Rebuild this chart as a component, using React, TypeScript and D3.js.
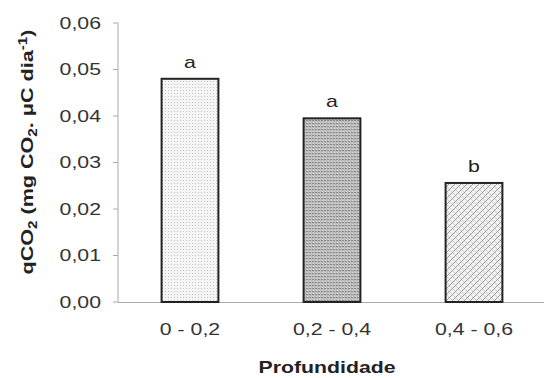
import React from "react";
import * as d3 from "d3";

const categories = ["0 - 0,2", "0,2 - 0,4", "0,4 - 0,6"];
const values = [0.048, 0.0395, 0.0256];
const letters = ["a", "a", "b"];
const yTicks = [0, 0.01, 0.02, 0.03, 0.04, 0.05, 0.06];

const W = 544;
const H = 378;
const stretch = 1.33; // the source image is stretched sideways

const App = () => {
  const x = d3.scaleBand().domain(categories).range([119, 545]).paddingInner(0.6).paddingOuter(0.3);
  const y = d3.scaleLinear().domain([0, 0.06]).range([302, 23]);
  const fmt = (v: number) => d3.format(".2f")(v).replace(".", ",");
  const fills = ["url(#p1)", "url(#p2)", "url(#p3)"];

  return (
    <svg width={W} height={H} style={{ position: "absolute", left: 0, top: 0, background: "#fff" }}
      fontFamily="Liberation Sans, Arial, sans-serif">
      <defs>
        <pattern id="p1" width="3" height="3" patternUnits="userSpaceOnUse">
          <rect width="3" height="3" fill="#f4f4f4" />
          <rect width="1" height="1" fill="#c8c8c8" />
        </pattern>
        <pattern id="p2" width="3" height="3" patternUnits="userSpaceOnUse">
          <rect width="3" height="3" fill="#bdbdbd" />
          <rect width="2" height="1" fill="#8a8a8a" />
          <rect x="1" y="2" width="1" height="1" fill="#d8d8d8" />
        </pattern>
        <pattern id="p3" width="6" height="6" patternUnits="userSpaceOnUse">
          <rect width="6" height="6" fill="#f2f2f2" />
          <path d="M0,3 L3,0 M3,6 L6,3" stroke="#9a9a9a" strokeWidth="1" />
          <path d="M0,4 L2,6 M3,1 L5,3" stroke="#c4c4c4" strokeWidth="0.8" />
        </pattern>
      </defs>

      {/* y axis */}
      <line x1={118} x2={118} y1={y(0.06)} y2={y(0)} stroke="#aaa" />
      {yTicks.map((t) => (
        <g key={t}>
          <line x1={113} x2={118} y1={y(t)} y2={y(t)} stroke="#aaa" />
          <g transform={`translate(101,${y(t)}) scale(${stretch},1)`}>
            <text textAnchor="end" dy="0.35em" fontSize={16} fill="#333">{fmt(t)}</text>
          </g>
        </g>
      ))}
      {/* x axis */}
      <line x1={118} x2={544} y1={y(0) + 0.5} y2={y(0) + 0.5} stroke="#aaa" />

      {values.map((v, i) => {
        const c = categories[i];
        const bx = x(c)!;
        return (
          <g key={c}>
            <rect x={bx} y={y(v)} width={x.bandwidth()} height={y(0) - y(v)}
              fill={fills[i]} stroke="#222" strokeWidth={2} />
            <g transform={`translate(${bx + x.bandwidth() / 2},${y(v) - 11}) scale(${stretch},1)`}>
              <text textAnchor="middle" fontSize={16} fill="#222">{letters[i]}</text>
            </g>
            <g transform={`translate(${bx + x.bandwidth() / 2},${335}) scale(${stretch},1)`}>
              <text textAnchor="middle" fontSize={16} fill="#333">{c}</text>
            </g>
          </g>
        );
      })}

      <g transform={`translate(327,373) scale(${stretch},1)`}>
        <text textAnchor="middle" fontSize={16} fontWeight="bold" fill="#222">Profundidade</text>
      </g>

      <g transform={`translate(33,152) rotate(-90)`}>
        <text textAnchor="middle" fontSize={17} fontWeight="bold" fill="#222"
          textLength={245} lengthAdjust="spacingAndGlyphs">
          qCO<tspan fontSize={12} dy={4}>2</tspan>
          <tspan dy={-4}> (mg CO</tspan>
          <tspan fontSize={12} dy={4}>2</tspan>
          <tspan dy={-4}>. μC dia</tspan>
          <tspan fontSize={12} dy={-6}>-1</tspan>
          <tspan dy={6}>)</tspan>
        </text>
      </g>
    </svg>
  );
};

export default App;
